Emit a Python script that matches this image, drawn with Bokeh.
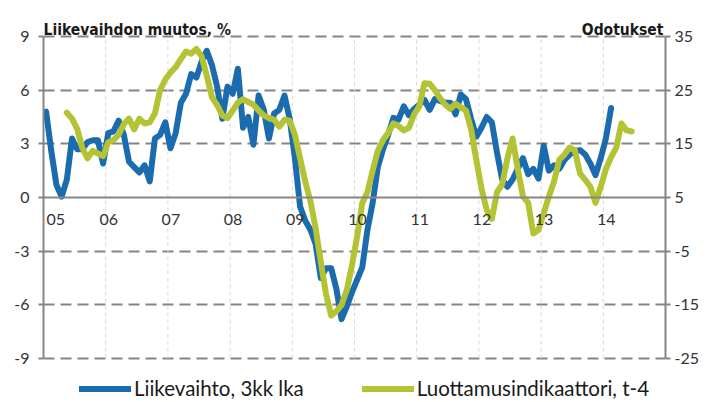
from bokeh.plotting import figure
from bokeh.models import (Range1d, LinearAxis, FixedTicker, Label, Legend, LegendItem, Span,
                          ColumnDataSource)
from bokeh.core.properties import value
from bokeh.embed import file_html
from bokeh.resources import INLINE

# ---- data ----
year_ticks = [2005, 2006, 2007, 2008, 2009, 2010, 2011, 2012, 2013, 2014]
year_labels = ["05", "06", "07", "08", "09", "10", "11", "12", "13", "14"]
left_ticks = [-9, -6, -3, 0, 3, 6, 9]
right_ticks = [-25, -15, -5, 5, 15, 25, 35]

blue_start_month = 0   # Jan 2005
blue_name = "Liikevaihto, 3kk lka"
blue_values = [
    4.8, 2.6, 0.7, 0.05, 1.0, 3.3, 2.7, 2.7, 3.1, 3.2, 3.2, 1.9,
    3.6, 3.7, 4.3, 3.5, 2.0, 1.7, 1.4, 1.8, 0.9, 3.3, 3.5, 4.2,
    2.75, 3.6, 5.3, 5.8, 6.9, 6.7, 7.6, 8.2, 7.4, 6.2, 4.4, 6.2,
    5.8, 7.2, 3.9, 4.5, 2.95, 5.7, 4.9, 3.3, 4.7, 4.9, 5.7, 4.4,
    2.2, -0.5, -1.3, -1.8, -2.6, -4.5, -3.95, -3.95, -5.1, -6.8, -6.1, -5.3,
    -4.6, -3.9, -1.8, -0.3, 1.7, 2.7, 3.5, 4.45, 4.35, 5.1, 4.6, 4.95,
    5.2, 5.45, 4.9, 5.5, 5.4, 5.3, 5.3, 4.65, 5.75, 5.5, 4.4, 3.4,
    3.9, 4.5, 4.2, 2.5, 1.0, 0.6, 1.0, 1.6, 2.2, 1.3, 1.6, 1.05,
    2.9, 1.5, 1.8, 1.6, 2.1, 2.4, 2.6, 2.65, 2.4, 1.9, 1.25, 2.2,
    3.3, 5.0,
]

green_start_month = 4  # May 2005
green_name = "Luottamusindikaattori, t-4"
green_values = [
    20.8, 19.7, 17.8, 14.2, 12.3, 13.7, 13.2, 12.7,
    15.3, 15.7, 16.7, 18.7, 19.7, 17.7, 19.7, 18.8, 19.0, 20.7, 25.0, 27.0,
    28.3, 29.3, 30.8, 32.2, 31.8, 32.7, 31.3, 27.7, 23.7, 22.2, 20.3, 19.8,
    21.2, 22.7, 23.3, 22.8, 22.3, 21.2, 20.3, 19.8, 19.5, 18.2, 19.5, 19.3,
    16.7, 12.3, 8.0, 4.3, -0.7, -7.0, -13.0, -17.0, -16.2, -15.0, -12.3, -7.7,
    -2.3, 4.0, 6.0, 10.0, 13.7, 15.7, 17.0, 18.8, 18.3, 17.5, 18.0, 20.5,
    22.0, 26.3, 26.2, 25.0, 23.5, 22.3, 21.5, 22.5, 21.8, 21.2, 17.7, 12.0,
    6.7, 2.7, 1.0, 6.0, 7.5, 12.3, 16.0, 10.3, 5.2, 4.0, -1.7, -1.0,
    2.0, 5.2, 8.0, 12.0, 13.0, 14.3, 13.8, 9.5, 8.3, 7.0, 4.0, 7.0,
    10.3, 12.5, 14.3, 18.8, 17.5, 17.3,
]

blue_x = [2005 + (blue_start_month + i + 0.5) / 12 for i in range(len(blue_values))]
green_x = [2005 + (green_start_month + i + 0.5) / 12 for i in range(len(green_values))]

BLUE = "#1b6cae"
GREEN = "#b4c334"
AXIS = "#858585"
FONT = "Lato"
TITLE_FONT = "DejaVu Sans Condensed"

W, H = 706, 400
LEFT, RIGHT = 43, 41
PLOT_TOP, PLOT_BOTTOM = 36, 358        # pixel rows of +9 and -9
lo, hi = left_ticks[0], left_ticks[-1]
ppu = (PLOT_BOTTOM - PLOT_TOP) / (hi - lo)
y_top = hi + PLOT_TOP / ppu
y_bot = lo - (H - PLOT_BOTTOM) / ppu
# right scale is a linear map of the left one
scale = (right_ticks[-1] - right_ticks[0]) / (hi - lo)
shift = right_ticks[0] - lo * scale

p = figure(width=W, height=H, output_backend="svg", toolbar_location=None,
           x_range=Range1d(2005, 2015), y_range=Range1d(y_bot, y_top))
p.xaxis.visible = False
p.yaxis.visible = False
p.xgrid.visible = False
p.min_border_left = LEFT
p.min_border_right = RIGHT
p.min_border_top = 0
p.min_border_bottom = 0
p.outline_line_color = None
p.background_fill_color = "white"
p.border_fill_color = "white"
p.extra_y_ranges = {"right": Range1d(y_bot * scale + shift, y_top * scale + shift)}

def style_axis(ax, ticks):
    ax.axis_line_color = AXIS
    ax.axis_line_width = 2
    ax.major_tick_line_color = AXIS
    ax.major_tick_line_width = 2
    ax.minor_tick_line_color = None
    ax.major_label_text_font = FONT
    ax.major_label_text_font_size = "16px"
    ax.major_label_text_color = "#333333"
    ax.major_tick_out = 5
    ax.major_tick_in = 0
    ax.major_label_overrides = {t: str(t) for t in ticks}

yl = LinearAxis(ticker=FixedTicker(ticks=left_ticks), bounds=(lo, hi))
style_axis(yl, left_ticks)
yl.major_label_standoff = 9
p.add_layout(yl, "left")

yr = LinearAxis(y_range_name="right", ticker=FixedTicker(ticks=right_ticks),
                bounds=(right_ticks[0], right_ticks[-1]))
style_axis(yr, right_ticks)
yr.major_label_standoff = 4
p.add_layout(yr, "right")

# horizontal dashed grid
p.ygrid.ticker = FixedTicker(ticks=[t for t in left_ticks if t != 0])
p.ygrid.grid_line_color = AXIS
p.ygrid.grid_line_dash = "11 6"
p.ygrid.grid_line_width = 2

# light vertical year grid
vg = year_ticks[1:]
p.segment(x0=vg, y0=[lo] * len(vg), x1=vg, y1=[hi] * len(vg),
          line_color="#d9d9d9", line_dash="4 3", line_width=1)

# x axis line at zero
p.add_layout(Span(location=0, dimension="width", line_color=AXIS, line_width=2))

# lines
rb = p.line(blue_x, blue_values, line_color=BLUE, line_width=6,
            line_join="round", line_cap="round")
rg = p.line(green_x, green_values, y_range_name="right", line_color=GREEN,
            line_width=6, line_join="round", line_cap="round")

# year labels (drawn above the lines)
ysrc = ColumnDataSource(dict(x=year_ticks, y=[0] * len(year_ticks), t=year_labels,
                             a=["left"] + ["center"] * (len(year_ticks) - 1)))
p.text(x="x", y="y", text="t", source=ysrc, text_font=value(FONT),
       text_font_size="16px", text_color="#333333", text_align="a",
       text_baseline="top", x_offset=3, y_offset=16)

# titles
p.add_layout(Label(x=2005, y=hi, x_offset=0, y_offset=7, text="Liikevaihdon muutos, %",
                   text_font=TITLE_FONT, text_font_style="bold",
                   text_font_size="15.5px", text_color="#1a1a1a",
                   text_baseline="alphabetic", text_align="left"))
p.add_layout(Label(x=2015, y=hi, x_offset=-2, y_offset=7, text="Odotukset",
                   text_font=TITLE_FONT, text_font_style="bold",
                   text_font_size="15.5px", text_color="#1a1a1a",
                   text_baseline="alphabetic", text_align="right"))

legend = Legend(items=[LegendItem(label=blue_name, renderers=[rb]),
                       LegendItem(label=green_name, renderers=[rg])],
                orientation="horizontal", location=(36, 0),
                label_text_font=FONT, label_text_font_size="20.5px",
                label_text_color="#1a1a1a", label_height=21,
                glyph_width=52, glyph_height=21, spacing=58, label_standoff=3,
                padding=0, margin=0, border_line_color=None,
                background_fill_alpha=0)
p.add_layout(legend)

open("out.html", "w").write(file_html(p, INLINE))
